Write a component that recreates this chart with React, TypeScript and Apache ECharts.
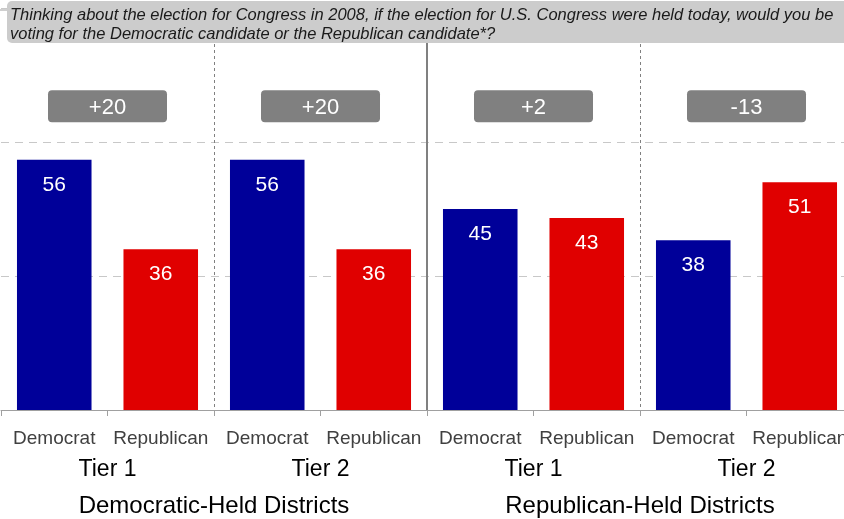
import React, { useEffect, useRef } from "react";
import * as echarts from "echarts";

const categories = ["Democrat", "Republican", "Democrat", "Republican", "Democrat", "Republican", "Democrat", "Republican"];
const values = [56, 36, 56, 36, 45, 43, 38, 51];
const tiers = ["Tier 1", "Tier 2", "Tier 1", "Tier 2"];
const groups = ["Democratic-Held Districts", "Republican-Held Districts"];
const margins = ["+20", "+20", "+2", "-13"];
const yTicks = [0, 30, 60, 90];
const question =
  "Thinking about the election for Congress in 2008, if the election for U.S. Congress were held today, would you be\nvoting for the Democratic candidate or the Republican candidate*?";

const BLUE = "#000099";
const RED = "#e00000";
const FONT = "'Liberation Sans', Arial, sans-serif";
const DELTA_Y = 68;

export default function App() {
  const ref = useRef<HTMLDivElement>(null);
  useEffect(() => {
    const chart = echarts.init(ref.current!, null, { renderer: "svg" });
    chart.setOption({
      animation: false,
      textStyle: { fontFamily: FONT },
      grid: { left: 1, width: 852, top: 8, bottom: 109, containLabel: false, outerBoundsMode: "none" },
      yAxis: {
        type: "value",
        min: yTicks[0],
        max: yTicks[yTicks.length - 1],
        interval: 30,
        axisLine: { show: false },
        axisTick: { show: false },
        axisLabel: { show: false },
        splitLine: { lineStyle: { color: "#c8c8c8", type: [8, 6], width: 1 } },
      },
      xAxis: [
        {
          type: "category",
          data: categories,
          position: "bottom",
          axisLine: { lineStyle: { color: "#a0a0a0", width: 1 } },
          axisTick: { show: true, length: 6, lineStyle: { color: "#a0a0a0" } },
          axisLabel: { interval: 0, fontSize: 19, color: "#404040", margin: 18, fontFamily: FONT },
          splitLine: { show: false },
        },
        {
          type: "category",
          data: tiers,
          position: "bottom",
          axisLine: { show: false },
          axisTick: { show: false },
          axisLabel: { interval: 0, fontSize: 23, color: "#000", margin: 46, fontFamily: FONT },
          splitLine: {
            show: true,
            showMinLine: false,
            showMaxLine: false,
            lineStyle: { color: "#808080", type: [3, 3], width: 1 },
          },
        },
        {
          type: "category",
          data: groups,
          position: "bottom",
          axisLine: { show: false },
          axisTick: { show: false },
          axisLabel: { interval: 0, fontSize: 24, color: "#000", margin: 82, fontFamily: FONT },
          splitLine: {
            show: true,
            showMinLine: false,
            showMaxLine: false,
            lineStyle: { color: "#808080", type: "solid", width: 2 },
          },
        },
      ],
      series: [
        {
          type: "bar",
          xAxisIndex: 0,
          barWidth: "70%",
          data: values.map((v, i) => ({
            value: v,
            itemStyle: { color: i % 2 === 0 ? BLUE : RED },
          })),
          label: {
            show: true,
            position: "insideTop",
            distance: 13,
            color: "#fff",
            fontSize: 21,
            fontFamily: FONT,
          },
        },
        {
          type: "scatter",
          xAxisIndex: 1,
          symbolSize: 0,
          itemStyle: { color: "#808080", opacity: 1 },
          data: margins.map((_, i) => [i, DELTA_Y]),
          label: {
            show: true,
            position: "inside",
            formatter: (p: any) => margins[p.dataIndex],
            backgroundColor: "#808080",
            borderRadius: 4,
            width: 119,
            height: 32,
            lineHeight: 32,
            align: "center",
            verticalAlign: "middle",
            color: "#fff",
            fontSize: 22,
            fontFamily: FONT,
          },
        },
      ],
      graphic: [
        {
          type: "line",
          z: 100,
          shape: { x1: 0, y1: 10, x2: 7, y2: 10 },
          style: { stroke: "#a0a0a0", lineWidth: 1 },
        },
        {
          type: "rect",
          z: 100,
          shape: { x: 7, y: 1, width: 850, height: 42, r: 5 },
          style: { fill: "#cccccc" },
        },
        {
          type: "text",
          z: 101,
          x: 10,
          y: 4,
          style: {
            text: question,
            fontStyle: "italic",
            fontSize: 16.5,
            lineHeight: 19,
            fontFamily: FONT,
            fill: "#1a1a1a",
          },
        },
      ],
    });
    return () => chart.dispose();
  }, []);
  return (
    <div
      ref={ref}
      style={{ position: "fixed", left: 0, top: 0, width: 844, height: 519 }}
    />
  );
}
